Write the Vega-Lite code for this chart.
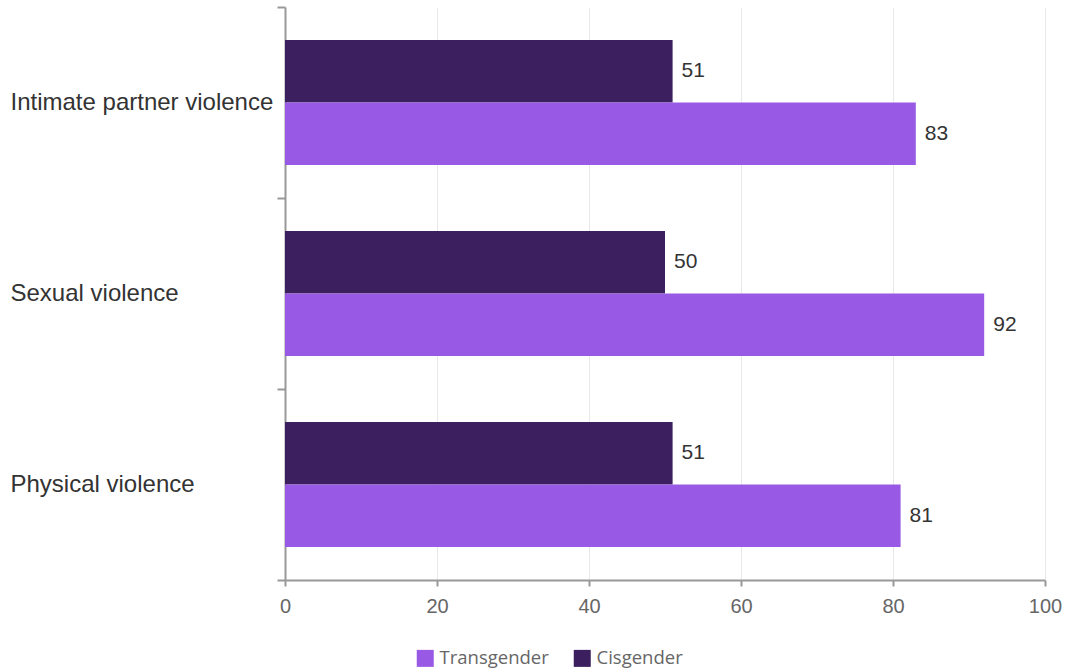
{
  "$schema": "https://vega.github.io/schema/vega-lite/v6.json",
  "width": 760,
  "height": 573,
  "autosize": {"type": "none"},
  "padding": {"left": 285, "top": 7, "right": 23, "bottom": 90},
  "background": "white",
  "data": {
    "values": [
      {"category": "Intimate partner violence", "group": "Cisgender", "value": 51},
      {"category": "Intimate partner violence", "group": "Transgender", "value": 83},
      {"category": "Sexual violence", "group": "Cisgender", "value": 50},
      {"category": "Sexual violence", "group": "Transgender", "value": 92},
      {"category": "Physical violence", "group": "Cisgender", "value": 51},
      {"category": "Physical violence", "group": "Transgender", "value": 81}
    ]
  },
  "encoding": {
    "y": {
      "field": "category",
      "type": "nominal",
      "sort": ["Intimate partner violence", "Sexual violence", "Physical violence"],
      "scale": {"paddingInner": 0, "paddingOuter": 0},
      "axis": {
        "title": null,
        "tickBand": "extent",
        "labelAlign": "left",
        "labelPadding": 267,
        "tickSize": 8,
        "labelFont": "Liberation Sans",
        "labelFontSize": 24,
        "labelColor": "#333333",
        "domainColor": "#999999",
        "domainWidth": 2,
        "tickColor": "#999999",
        "tickWidth": 2,
        "grid": false,
        "labelLimit": 400
      }
    },
    "yOffset": {
      "field": "group",
      "type": "nominal",
      "sort": ["Cisgender", "Transgender"],
      "scale": {"paddingInner": 0, "paddingOuter": 0.528}
    },
    "x": {
      "field": "value",
      "type": "quantitative",
      "scale": {"domain": [0, 100], "nice": false},
      "axis": {
        "title": null,
        "values": [0, 20, 40, 60, 80, 100],
        "labelFlush": false,
        "tickSize": 6,
        "tickColor": "#999999",
        "tickWidth": 2,
        "domainColor": "#999999",
        "domainWidth": 2,
        "labelFont": "Liberation Sans",
        "labelFontSize": 20,
        "labelColor": "#666666",
        "labelPadding": 10,
        "gridColor": "#e8e8e8",
        "gridWidth": 1
      }
    }
  },
  "layer": [
    {
      "mark": {"type": "bar"},
      "encoding": {
        "color": {
          "field": "group",
          "type": "nominal",
          "scale": {"domain": ["Transgender", "Cisgender"], "range": ["#985ae5", "#3b1f5e"]},
          "legend": {
            "title": null,
            "orient": "none",
            "legendX": 131,
            "legendY": 642,
            "direction": "horizontal",
            "symbolType": "square",
            "symbolSize": 289,
            "symbolStrokeWidth": 0,
            "labelFont": "Open Sans",
            "labelFontSize": 18.5,
            "labelColor": "#666666",
            "columnPadding": 24,
            "labelOffset": 5
          }
        }
      }
    },
    {
      "mark": {"type": "text", "align": "left", "baseline": "middle", "dx": 9, "font": "Liberation Sans", "fontSize": 21, "color": "#333333"},
      "encoding": {
        "text": {"field": "value", "type": "quantitative"}
      }
    }
  ],
  "config": {
    "view": {"stroke": null}
  }
}
